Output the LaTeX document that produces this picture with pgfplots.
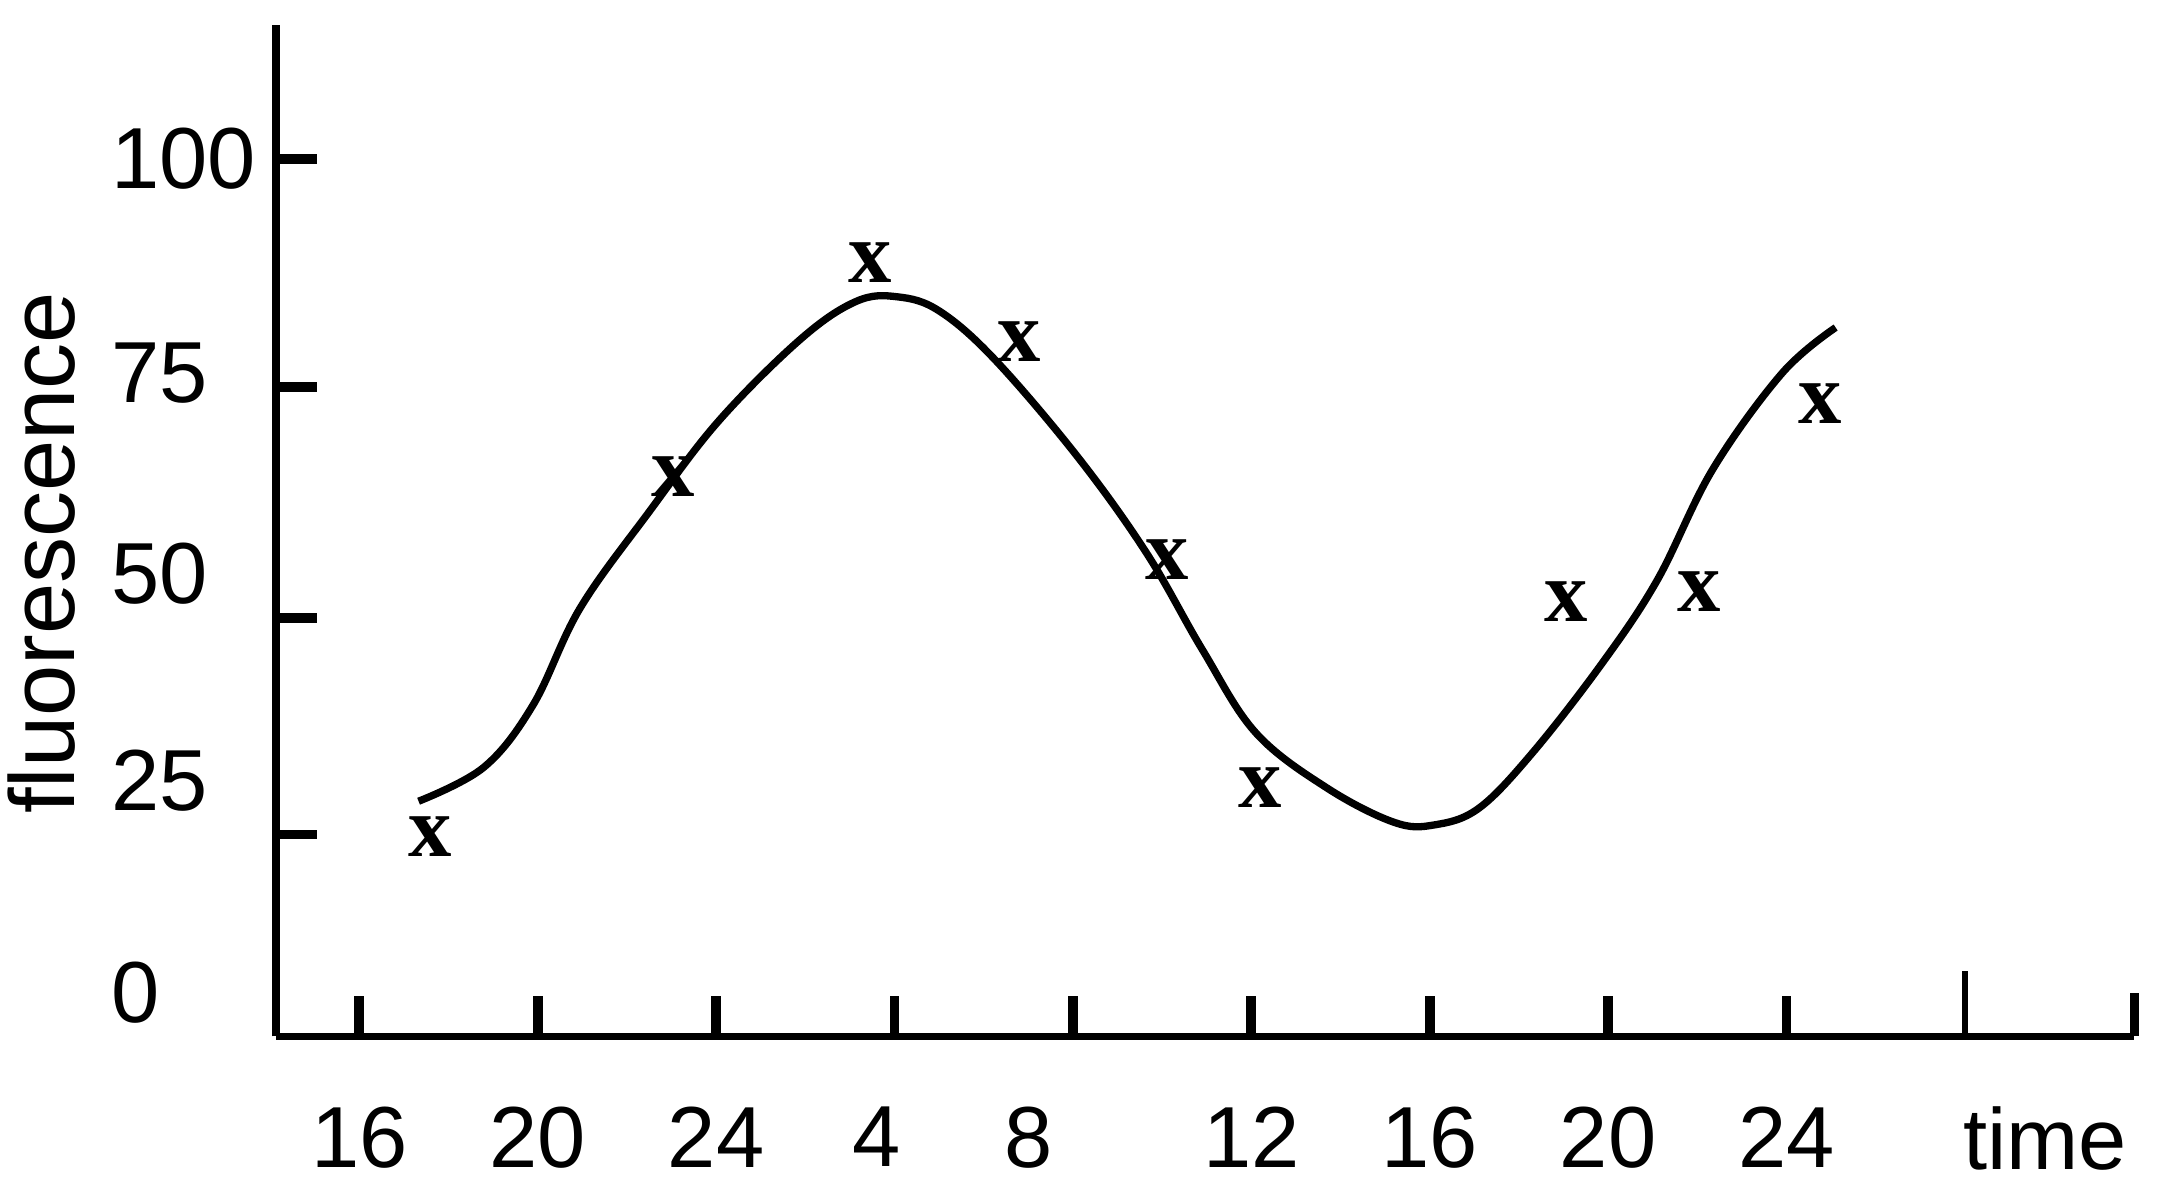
\documentclass[border=0pt]{standalone}
\usepackage{fontspec}
\setmainfont{Liberation Sans}
\newfontfamily\xfont{Liberation Serif}
\usepackage{pgfplots}
\pgfplotsset{compat=1.18}
\begin{document}
\begin{tikzpicture}
\path[use as bounding box] (-51pt,-30.1pt) rectangle (349pt,191.3pt);
\begin{axis}[
  scale only axis, width=343pt, height=186.7pt,
  xmin=14.14, xmax=55.8, ymin=0, ymax=115.3,
  clip=false,
  axis x line=bottom, axis y line=left,
  axis line style={-, line width=1.4pt},
  tick align=inside,
  major tick length=7.5pt,
  tick style={line width=1.8pt, black},
  xtick={16,20,...,48}, xticklabels={},
  ytick={23,47.7,74,100}, yticklabels={},
  extra x ticks={16,20,24,27.6,31,36,40,44,48,53.8},
  extra x tick labels={16,20,24,4,8,12,16,20,24,time},
  extra x tick style={major tick length=0pt,
    xticklabel style={anchor=north, inner sep=0pt, yshift=-12.8pt}},
  extra y ticks={5,29.1,52.8,75.6,100},
  extra y tick labels={0,25,50,75,100},
  extra y tick style={major tick length=0pt,
    yticklabel style={anchor=west, inner sep=0pt, xshift=-30.6pt}},
  tick label style={font=\fontsize{16}{16}\selectfont},
  /pgf/number format/assume math mode=true,
  ylabel={fluorescence},
  ylabel style={at={(axis description cs:-0.1265,0.478)}, anchor=center,
    font=\fontsize{17}{17}\selectfont},
]
% fitted rhythm curve
\addplot[black, line width=1.35pt, smooth, tension=0.6] coordinates {
  (17.33,26.8) (18.8,30.7) (19.9,37.8) (20.95,48.8) (22.5,59.8)
  (24.05,70.1) (25.9,79.5) (27.15,83.8) (28.07,84.3) (29.0,82.7)
  (30.24,77.2) (32.1,66.1) (33.65,55.1) (34.9,44.1) (36.1,34.6)
  (37.7,28.3) (39.2,24.4) (40.1,24.1) (41.1,26) (42.3,32.3)
  (43.86,42.5) (45.1,52) (46.34,64.6) (47.9,75.6) (49.1,80.8)};
% measured points
\addplot[only marks, mark=text, text mark as node=true,
  text mark={\fontsize{16}{16}\selectfont\xfont\bfseries x},
  text mark style={inner sep=0pt, anchor=center}] coordinates {
  (17.58,22.8) (23.03,63.8) (27.46,88.2) (30.80,79.2) (34.11,54.3)
  (36.19,28.3) (43.06,49.6) (46.03,50.7) (48.76,72.1)};
\draw[line width=1.2pt] (axis cs:52,0) -- ([yshift=12pt]axis cs:52,0);
\draw[line width=1.6pt] (axis cs:55.8,0) -- ([yshift=8pt]axis cs:55.8,0);
\end{axis}
\end{tikzpicture}
\end{document}
